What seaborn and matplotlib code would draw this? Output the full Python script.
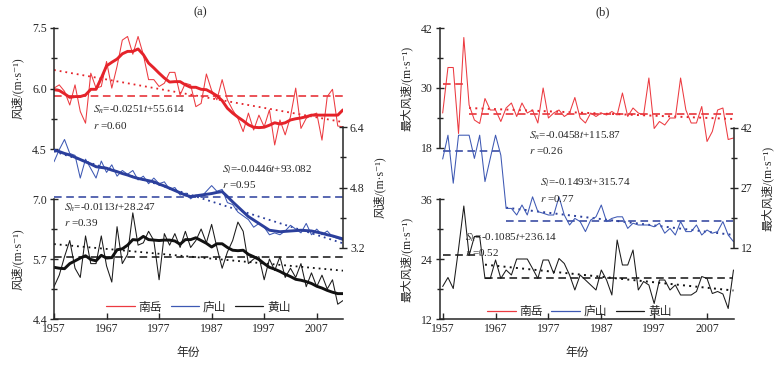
import matplotlib
matplotlib.use('Agg')
import matplotlib.pyplot as plt
import numpy as np
import pandas as pd
import seaborn as sns
from matplotlib.lines import Line2D
from matplotlib.ticker import FixedLocator

years = list(range(1957, 2013))

# (a) annual mean wind speed, m/s
nanyue_mean = [6.01, 6.09, 5.93, 5.59, 6.09, 5.43, 5.14, 6.38, 6.01, 6.05,
               6.67, 6.01, 6.55, 7.20, 7.29, 6.85, 7.29, 6.84, 6.22, 6.22,
               6.05, 6.13, 6.40, 6.40, 5.84, 6.13, 6.09, 5.55, 5.63, 6.36,
               5.95, 5.72, 6.22, 5.72, 5.47, 5.26, 4.93, 5.39, 4.97, 5.34,
               5.05, 5.47, 4.60, 5.22, 4.85, 5.30, 6.01, 5.01, 5.26, 5.34,
               5.39, 4.72, 5.80, 5.98, 5.07, 5.05]
nanyue_smooth = [5.97, 5.95, 5.87, 5.78, 5.80, 5.80, 5.84, 5.98, 5.98, 6.26,
                 6.56, 6.65, 6.73, 6.86, 6.92, 6.92, 6.98, 6.84, 6.63, 6.51,
                 6.38, 6.26, 6.16, 6.17, 6.17, 6.09, 6.03, 6.03, 5.98, 5.97,
                 5.90, 5.82, 5.70, 5.51, 5.39, 5.29, 5.20, 5.10, 5.04, 5.03,
                 5.04, 5.09, 5.15, 5.12, 5.15, 5.22, 5.25, 5.27, 5.30, 5.34,
                 5.34, 5.34, 5.34, 5.34, 5.34, 5.47]
lushan_mean = [5.48, 5.80, 6.07, 5.70, 5.65, 5.05, 5.55, 5.30, 5.05, 5.50,
               5.20, 5.40, 5.10, 5.25, 5.15, 5.25, 5.00, 5.10, 4.90, 5.05,
               4.90, 4.95, 4.75, 4.80, 4.60, 4.65, 4.50, 4.60, 4.55, 4.70,
               4.85, 4.70, 4.75, 4.40, 4.35, 4.15, 4.05, 3.95, 3.75, 3.85,
               3.75, 3.55, 3.60, 3.55, 3.65, 3.80, 3.70, 3.60, 3.85, 3.55,
               3.70, 3.55, 3.65, 3.50, 3.45, 3.40]
lushan_smooth = [5.79, 5.75, 5.70, 5.66, 5.60, 5.54, 5.48, 5.42, 5.35, 5.33,
                 5.31, 5.26, 5.22, 5.17, 5.13, 5.08, 5.04, 5.01, 4.98, 4.95,
                 4.89, 4.84, 4.78, 4.72, 4.66, 4.60, 4.56, 4.58, 4.60, 4.62,
                 4.64, 4.67, 4.69, 4.56, 4.42, 4.29, 4.16, 4.03, 3.94, 3.85,
                 3.76, 3.67, 3.65, 3.63, 3.64, 3.65, 3.66, 3.67, 3.66, 3.65,
                 3.62, 3.59, 3.55, 3.52, 3.48, 3.44]
huangshan_mean = [5.10, 5.35, 5.75, 6.10, 5.50, 5.30, 6.20, 5.60, 5.60, 6.20,
                  5.55, 5.20, 6.40, 5.60, 5.80, 6.70, 6.00, 6.05, 6.30, 6.10,
                  5.25, 6.25, 6.00, 6.25, 5.95, 6.30, 5.95, 6.10, 6.35, 6.05,
                  6.45, 5.95, 5.50, 5.85, 6.10, 6.50, 6.30, 5.60, 5.70, 5.75,
                  5.25, 5.70, 5.45, 5.75, 5.30, 5.50, 5.30, 5.60, 5.10, 5.40,
                  5.10, 5.35, 5.05, 5.25, 4.72, 4.80]
huangshan_smooth = [5.52, 5.50, 5.49, 5.60, 5.66, 5.72, 5.77, 5.69, 5.66, 5.78,
                    5.72, 5.73, 5.90, 5.92, 6.00, 6.12, 6.11, 6.19, 6.12, 6.11,
                    6.10, 6.11, 6.11, 6.09, 6.02, 6.12, 6.12, 6.16, 6.10, 6.04,
                    5.96, 6.03, 6.03, 5.95, 5.89, 5.88, 5.89, 5.80, 5.75, 5.69,
                    5.60, 5.52, 5.48, 5.43, 5.37, 5.32, 5.26, 5.24, 5.21, 5.17,
                    5.11, 5.07, 5.02, 4.98, 4.95, 4.95]

# (b) annual maximum wind speed, m/s
nanyue_max = [25.0, 34.1, 34.1, 20.9, 40.1, 26.6, 23.6, 22.9, 27.9, 25.6,
              25.6, 23.3, 26.0, 27.0, 24.3, 27.0, 25.0, 25.6, 23.0, 30.0,
              24.0, 25.0, 25.6, 24.3, 25.0, 28.1, 24.0, 23.0, 25.0, 24.3,
              25.0, 24.6, 25.3, 24.6, 29.0, 24.3, 26.0, 25.0, 24.6, 32.0,
              21.9, 23.3, 22.6, 24.0, 24.0, 32.0, 25.6, 23.0, 23.0, 26.3,
              19.3, 21.3, 25.6, 26.0, 19.7, 20.0]
lushan_max = [34.25, 40.2, 28.2, 40.2, 40.2, 40.2, 34.4, 40.2, 28.6, 34.4,
              40.2, 35.2, 21.9, 21.9, 20.25, 22.75, 20.25, 24.8, 21.1, 20.7,
              20.25, 20.25, 24.8, 20.25, 17.75, 19.4, 18.6, 16.1, 19.0, 19.8,
              22.75, 18.6, 19.4, 19.8, 19.8, 16.9, 18.2, 17.75, 17.75, 17.75,
              17.3, 18.2, 15.7, 16.9, 15.25, 18.6, 16.1, 16.1, 17.75, 15.25,
              16.5, 15.7, 16.1, 18.6, 15.25, 13.6]
huangshan_max = [18.5, 20.3, 18.1, 26.0, 34.6, 24.7, 28.5, 28.5, 20.1, 20.1,
                 23.8, 20.1, 21.8, 20.8, 24.0, 24.0, 24.0, 22.1, 20.1, 23.8,
                 23.8, 21.1, 24.1, 23.1, 20.8, 17.8, 20.8, 19.8, 18.8, 17.8,
                 21.8, 19.8, 16.8, 27.8, 22.8, 22.8, 25.8, 17.8, 19.5, 18.8,
                 15.1, 19.8, 19.8, 17.8, 18.8, 16.8, 16.8, 16.8, 17.5, 20.5,
                 20.1, 17.1, 17.5, 17.0, 14.1, 21.8]

# first year of the second segment (change point) in panel (b)
breaks_b = {'南岳': 1962, '庐山': 1969, '黄山': 1965}

stations = ['南岳', '庐山', '黄山']
eq_a = ['$S_n$=-0.0251$t$+55.614', '$S_l$=-0.0446$t$+93.082', '$S_h$=-0.0113$t$+28.247']
r_a = ['$r$ =0.60', '$r$ =0.95', '$r$ =0.39']
eq_b = ['$S_n$=-0.0458$t$+115.87', '$S_l$=-0.1493$t$+315.74', '$S_h$=-0.1085$t$+236.14']
r_b = ['$r$ =0.26', '$r$ =0.77', '$r$ =0.52']

colors = ['#e5232a', '#2b3f9c', '#111111']
thin_colors = ['#ec3a40', '#3d58b3', '#1a1a1a']

sns.set_style('ticks')
plt.rcParams['font.family'] = ['Liberation Serif', 'Noto Sans CJK SC', 'DejaVu Serif']
plt.rcParams['mathtext.fontset'] = 'stix'
plt.rcParams['font.size'] = 8
plt.rcParams['axes.unicode_minus'] = False

W, H = 777, 366
fig = plt.figure(figsize=(W / 100, H / 100), dpi=100)


def px_rect(x0, x1, ytop, ybot):
    return [x0 / W, 1 - ybot / H, (x1 - x0) / W, (ybot - ytop) / H]


def make_layer(rect, side, ylim, major, xlim, xaxis=False):
    ax = fig.add_axes(rect)
    ax.patch.set_alpha(0)
    for s in ax.spines.values():
        s.set_visible(False)
    ax.spines[side].set_visible(True)
    ax.spines[side].set_linewidth(1.1)
    ax.set_xlim(*xlim)
    ax.set_ylim(*ylim)
    ax.set_yticks(major)
    ax.yaxis.set_minor_locator(FixedLocator([(a + b) / 2 for a, b in zip(major[:-1], major[1:])]))
    ax.tick_params(axis='y', which='major', direction='inout', length=6, width=1.0, labelsize=8.5, pad=2)
    ax.tick_params(axis='y', which='minor', direction='inout', length=5, width=1.0)
    if side == 'right':
        ax.yaxis.tick_right()
        ax.yaxis.set_label_position('right')
    if xaxis:
        ax.spines['bottom'].set_visible(True)
        ax.spines['bottom'].set_linewidth(1.1)
        ax.set_xticks(range(1957, 2012, 10))
        ax.tick_params(axis='x', direction='in', length=4, width=1.0, labelsize=8.5, pad=3)
    else:
        ax.tick_params(axis='x', which='both', bottom=False, labelbottom=False)
    return ax


def finish(ax, xlim, ylim, label):
    ax.set_xlim(*xlim)
    ax.set_ylim(*ylim)
    ax.set_xlabel('')
    ax.set_ylabel(label, fontsize=8.5, labelpad=6)


def add_legend(ax, xc, yc):
    handles = [Line2D([], [], color=c, lw=0.9) for c in thin_colors]
    ax.legend(handles, stations, loc='center', bbox_to_anchor=(xc, yc), ncol=3,
              frameon=False, fontsize=8.5, handlelength=2.4, columnspacing=0.7,
              handletextpad=0.35)


# ---------- panel (a) ----------
a_x0, a_x1 = 54, 343
a_xlim = (1957, 2012)
a_layers = [
    (px_rect(a_x0, a_x1, 28, 149), 'left', (4.5, 7.5), [4.5, 6.0, 7.5], '风速/(m·s⁻¹)', False),
    (px_rect(a_x0, a_x1, 127, 248), 'right', (3.2, 6.4), [3.2, 4.8, 6.4], '风速/(m·s⁻¹)', False),
    (px_rect(a_x0, a_x1, 199, 319), 'left', (4.4, 7.0), [4.4, 5.7, 7.0], '风速/(m·s⁻¹)', True),
]
a_raw = [nanyue_mean, lushan_mean, huangshan_mean]
a_smooth = [nanyue_smooth, lushan_smooth, huangshan_smooth]

for i, (rect, side, ylim, major, lab, xax) in enumerate(a_layers):
    ax = make_layer(rect, side, ylim, major, a_xlim, xax)
    df = pd.DataFrame({'year': years, 'raw': a_raw[i], 'smooth': a_smooth[i]})
    ax.hlines(df['raw'].mean(), years[0], years[-1], colors=colors[i],
              linestyles=(0, (5, 3)), lw=1.1)
    sns.regplot(data=df, x='year', y='raw', ax=ax, scatter=False, ci=None, truncate=True,
                color=colors[i], line_kws=dict(ls=(0, (1, 2.2)), lw=1.3))
    sns.lineplot(data=df, x='year', y='raw', ax=ax, color=thin_colors[i], lw=0.75)
    sns.lineplot(data=df, x='year', y='smooth', ax=ax, color=colors[i], lw=2.1)
    finish(ax, a_xlim, ylim, lab)
    if xax:
        add_legend(ax, 0.5, 0.095)

# ---------- panel (b) ----------
b_x0, b_x1 = 439.5, 734
b_xlim = (1956.4, 2012.1)
b_layers = [
    (px_rect(b_x0, b_x1, 28, 148), 'left', (18, 42), [18, 30, 42], '最大风速/(m·s⁻¹)', False),
    (px_rect(b_x0, b_x1, 128, 248), 'right', (12, 42), [12, 27, 42], '最大风速/(m·s⁻¹)', False),
    (px_rect(b_x0, b_x1, 199, 319), 'left', (12, 36), [12, 24, 36], '最大风速/(m·s⁻¹)', True),
]
b_raw = [nanyue_max, lushan_max, huangshan_max]

for i, (rect, side, ylim, major, lab, xax) in enumerate(b_layers):
    ax = make_layer(rect, side, ylim, major, b_xlim, xax)
    df = pd.DataFrame({'year': years, 'raw': b_raw[i]})
    brk = breaks_b[stations[i]]
    early = df[df['year'] < brk]
    late = df[df['year'] >= brk]
    for seg in (early, late):
        ax.hlines(seg['raw'].mean(), seg['year'].min(), seg['year'].max(), colors=colors[i],
                  linestyles=(0, (5, 3)), lw=1.1)
    sns.regplot(data=late, x='year', y='raw', ax=ax, scatter=False, ci=None, truncate=True,
                color=colors[i], line_kws=dict(ls=(0, (1, 2.2)), lw=1.4))
    sns.lineplot(data=df, x='year', y='raw', ax=ax, color=thin_colors[i], lw=0.75)
    finish(ax, b_xlim, ylim, lab)
    if xax:
        add_legend(ax, 0.475, 0.06)

# ---------- annotations ----------
def ftext(x, y, s, **kw):
    fig.text(x / W, 1 - y / H, s, **kw)

for (x, y), eq, r in zip([(93, 110), (222, 170), (64, 208)], eq_a, r_a):
    ftext(x, y, eq, fontsize=8, va='center')
    ftext(x, y + 15, r, fontsize=8, va='center')
for (x, y), eq, r in zip([(529, 136), (540, 183), (465, 238)], eq_b, r_b):
    ftext(x, y, eq, fontsize=8, va='center')
    ftext(x, y + 15, r, fontsize=8, va='center')

ftext(200, 12, '(a)', fontsize=9, ha='center', va='center')
ftext(603, 12, '(b)', fontsize=9, ha='center', va='center')
ftext(188, 353, '年份', fontsize=8.5, ha='center', va='center')
ftext(577, 353, '年份', fontsize=8.5, ha='center', va='center')

fig.savefig('out.png', dpi=100, facecolor='white')
